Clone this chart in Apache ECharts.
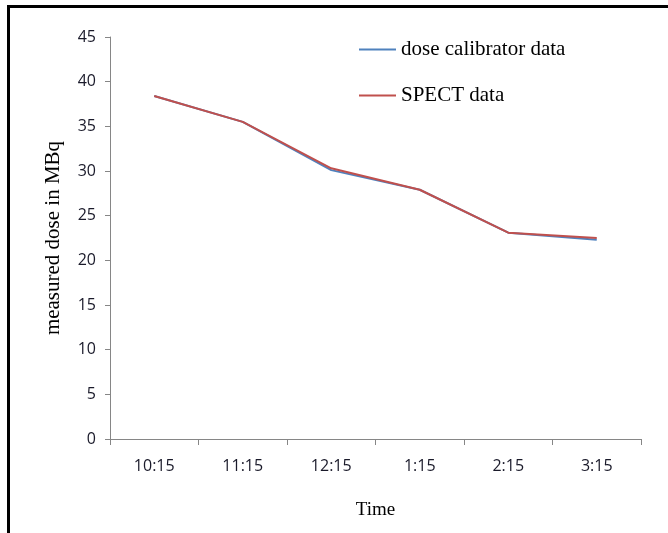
<!DOCTYPE html>
<html>
<head>
<meta charset="utf-8">
<script src="https://cdn.jsdelivr.net/npm/echarts@6/dist/echarts.min.js"></script>
<style>
  body { margin: 0; background: #fff; }
  #chart { width: 668px; height: 533px; }
  .frame {
    position: absolute; left: 7px; top: 5px; right: 0; bottom: 0;
    border-left: 3px solid #000; border-top: 3px solid #000;
    pointer-events: none;
  }
</style>
</head>
<body>
<div id="chart"></div>
<div class="frame"></div>
<script>
// values
const times = ["10:15", "11:15", "12:15", "1:15", "2:15", "3:15"];
const doseCalibrator = [38.4, 35.5, 30.1, 27.9, 23.1, 22.3];
const spect = [38.4, 35.5, 30.3, 27.9, 23.1, 22.5];

const mychart = echarts.init(document.getElementById("chart"));
mychart.setOption({
  animation: false,
  grid: { left: 110, right: 27, top: 37, bottom: 94 },
  legend: {
    orient: "vertical",
    left: 354,
    top: 34,
    itemGap: 25,
    itemWidth: 37,
    itemHeight: 2,
    icon: "rect",
    textStyle: { fontFamily: "Liberation Serif", fontSize: 21, color: "#000", padding: [0, 0, 0, 0] },
    data: ["dose calibrator data", "SPECT data"]
  },
  xAxis: {
    type: "category",
    data: times,
    boundaryGap: true,
    name: "Time",
    nameLocation: "middle",
    nameGap: 62,
    nameTextStyle: { fontFamily: "Liberation Serif", fontSize: 19, color: "#000" },
    axisLine: { lineStyle: { color: "#868686", width: 1 } },
    axisTick: { show: true, length: 6, lineStyle: { color: "#868686" } },
    axisLabel: { margin: 19, fontFamily: "Open Sans", fontSize: 16, color: "#1a1a2a" }
  },
  yAxis: {
    type: "value",
    min: 0,
    max: 45,
    interval: 5,
    name: "measured dose in MBq",
    nameLocation: "middle",
    nameGap: 46,
    nameRotate: 90,
    nameTextStyle: { fontFamily: "Liberation Serif", fontSize: 21, color: "#000" },
    splitLine: { show: false },
    axisLine: { show: true, lineStyle: { color: "#868686", width: 1 } },
    axisTick: { show: true, length: 5, lineStyle: { color: "#868686" } },
    axisLabel: { margin: 14, fontFamily: "Open Sans", fontSize: 16, color: "#1a1a2a" }
  },
  series: [
    {
      name: "dose calibrator data",
      type: "line",
      data: doseCalibrator,
      symbol: "none",
      lineStyle: { color: "#4f81bd", width: 2 },
      itemStyle: { color: "#4f81bd" }
    },
    {
      name: "SPECT data",
      type: "line",
      data: spect,
      symbol: "none",
      lineStyle: { color: "#c0504d", width: 2 },
      itemStyle: { color: "#c0504d" }
    }
  ]
});
</script>
</body>
</html>
